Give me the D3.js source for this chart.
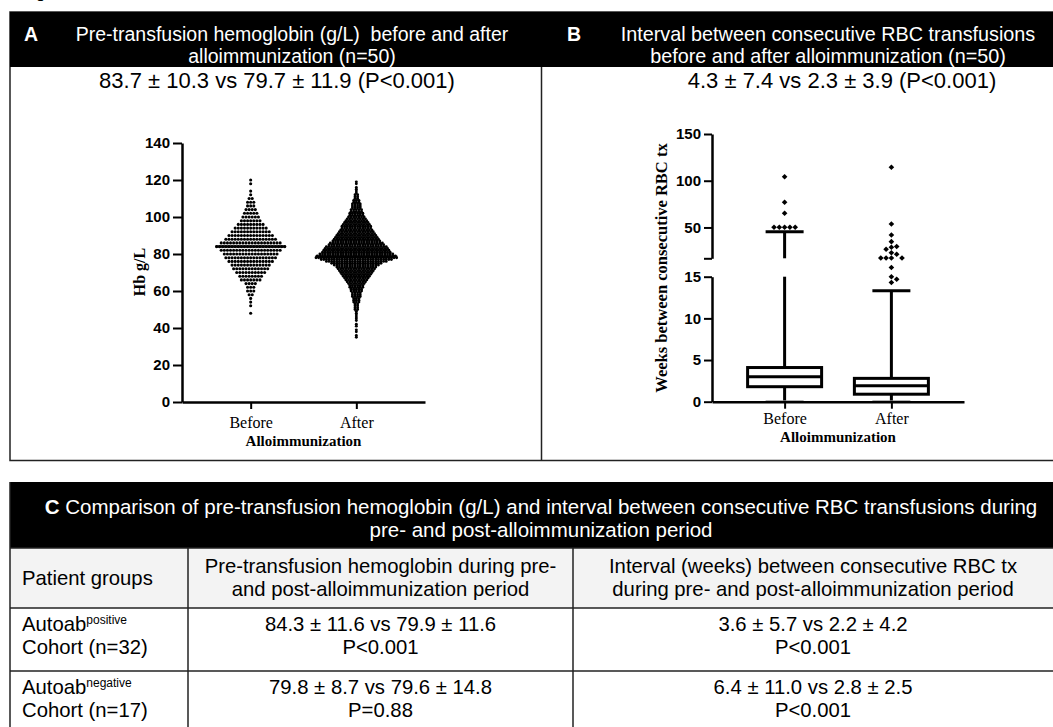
<!DOCTYPE html>
<html>
<head>
<meta charset="utf-8">
<script src="https://cdn.jsdelivr.net/npm/d3@7"></script>
<style>
body { margin: 0; background: #fff; }
svg { display: block; font-family: "Liberation Sans", Arial, sans-serif; }
</style>
</head>
<body>
<div id="fig"></div>
<script>
// Panel A: pre-transfusion Hb, dots per value (g/L)
let groups = ['Before', 'After'];
let hbBeforeValues = [120,118,116,114,112,110,108,106,104,102,100,98,96,94,92,90,88,86,84,82,80,78,76,74,72,70,68,66,64,62,60,58,56,54,52,50,48];
let hbBeforeCounts = [1,1,0,1,1,2,3,3,4,5,6,7,9,11,13,15,17,20,23,20,18,17,15,13,12,10,8,7,4,3,3,2,1,1,1,0,1];
let hbAfterValues = d3.range(119, 34, -1);
let hbAfterCounts = [1,1,0,1,1,1,1,2,2,2,3,3,4,4,4,5,5,6,6,7,8,9,10,11,12,12,13,14,15,16,17,18,19,21,22,24,25,26,27,29,31,32,28,24,20,18,16,15,14,13,12,11,10,9,8,7,6,6,5,5,4,4,4,3,3,3,2,2,2,2,1,1,1,1,1,1,0,1,1,0,1,1,0,1,1];
let hbCentre = [84, 78.5];
let hbTicks = [0, 20, 40, 60, 80, 100, 120, 140];

// Panel B: weeks between transfusions (box plot, Tukey)
let boxStats = [
    {group: 'Before', min: 0.1, q1: 1.8, median: 3.0, q3: 4.1, max: 45.5},
    {group: 'After',  min: 0.1, q1: 0.9, median: 1.9, q3: 2.8, max: 13.3}
];
let outBefore = [104.3, 76.9, 65.2, 50.2, 50.2, 50.2, 50.2, 50.2];
let outAfter = [114.4, 53.7, 41.9, 34.8, 29.6, 28.8, 26.7, 23.0, 21.3, 17.3, 17.3, 17.3, 17.3, 16.1, 15.0, 14.7, 14.3];
let lowTicks = [0, 5, 10, 15];
let upTicks = [17, 50, 100, 150];

// Panel C table
let colHeads = [['Pre-transfusion hemoglobin during pre-', 'and post-alloimmunization period'],
                ['Interval (weeks) between consecutive RBC tx', 'during pre- and post-alloimmunization period']];
let rowGroups = [['positive', 'Cohort (n=32)'], ['negative', 'Cohort (n=17)']];
let rowHb = [['84.3 ± 11.6 vs 79.9 ± 11.6', 'P<0.001'], ['79.8 ± 8.7 vs 79.6 ± 14.8', 'P=0.88']];
let rowInt = [['3.6 ± 5.7 vs 2.2 ± 4.2', 'P<0.001'], ['6.4 ± 11.0 vs 2.8 ± 2.5', 'P<0.001']];

let W = 1053, H = 727;
let serif = '"Liberation Serif", "Times New Roman", serif';
let sans = '"Liberation Sans", Arial, sans-serif';
let line = '#222';

let svg = d3.select('#fig').append('svg').attr('width', W).attr('height', H);

// cut off caption at the very top
svg.append('text').attr('x', 36).attr('y', -2).attr('font-size', 15).attr('font-weight', 'bold').text('g');

// ---- frames for A and B
svg.append('rect').attr('x', 10).attr('y', 12).attr('width', 1060).attr('height', 448.5)
    .attr('fill', 'none').attr('stroke', line).attr('stroke-width', 1.5);
svg.append('rect').attr('x', 10).attr('y', 12).attr('width', 1060).attr('height', 55).attr('fill', '#000');
svg.append('line').attr('x1', 541.5).attr('x2', 541.5).attr('y1', 67).attr('y2', 460)
    .attr('stroke', line).attr('stroke-width', 1.5);

function headText(x, y, str, opts) {
    let t = svg.append('text').attr('x', x).attr('y', y)
        .attr('font-size', opts.size || 20).attr('fill', opts.fill || '#000')
        .attr('text-anchor', opts.anchor || 'middle')
        .style('white-space', 'pre').text(str);
    if (opts.bold) t.attr('font-weight', 'bold');
    return t;
}

headText(24, 41, 'A', {fill: '#fff', bold: true, anchor: 'start', size: 19.5});
headText(292, 41, 'Pre-transfusion hemoglobin (g/L)  before and after', {fill: '#fff', size: 19.5});
headText(292, 63, 'alloimmunization (n=50)', {fill: '#fff', size: 19.5});
headText(567, 41, 'B', {fill: '#fff', bold: true, anchor: 'start', size: 19.5});
headText(828, 41, 'Interval between consecutive RBC transfusions', {fill: '#fff', size: 19.8});
headText(828, 63, 'before and after alloimmunization (n=50)', {fill: '#fff', size: 19.8});

headText(277, 88, '83.7 ± 10.3 vs 79.7 ± 11.9 (P<0.001)', {size: 22});
headText(842, 88, '4.3 ± 7.4 vs 2.3 ± 3.9 (P<0.001)', {size: 22});

function styleAxis(g) {
    g.select('.domain').attr('stroke', '#000').attr('stroke-width', 2.5);
    g.selectAll('.tick line').attr('stroke', '#000').attr('stroke-width', 2);
    g.selectAll('.tick text').attr('fill', '#000');
}

// ---- Panel A
let yA = d3.scaleLinear().domain([0, 140]).range([402, 143]);
let xA = d3.scalePoint().domain(groups).range([182, 425]).padding(0.65);

let gA = svg.append('g');

function swarm(values, counts, cx, spacing) {
    let pts = [];
    values.forEach((v, i) => {
        let n = counts[i];
        for (let k = 0; k < n; k++) pts.push({x: cx + (k - (n - 1) / 2) * spacing, y: yA(v)});
    });
    return pts;
}

let ptsBefore = swarm(hbBeforeValues, hbBeforeCounts, xA('Before'), 3.1);
let ptsAfter = swarm(hbAfterValues, hbAfterCounts, xA('After'), 2.6);

gA.selectAll('.db').data(ptsBefore).enter().append('circle')
    .attr('cx', d => d.x).attr('cy', d => d.y).attr('r', 1.55).attr('fill', '#000');
gA.selectAll('.da').data(ptsAfter).enter().append('circle')
    .attr('cx', d => d.x).attr('cy', d => d.y).attr('r', 1.45).attr('fill', '#000');

let centreW = [70, 82];
groups.forEach((g, i) => {
    gA.append('line').attr('x1', xA(g) - centreW[i] / 2).attr('x2', xA(g) + centreW[i] / 2)
        .attr('y1', yA(hbCentre[i])).attr('y2', yA(hbCentre[i]))
        .attr('stroke', '#000').attr('stroke-width', 2.5);
});

let axYA = gA.append('g').attr('transform', 'translate(182,0)')
    .call(d3.axisLeft(yA).tickValues(hbTicks).tickSize(9).tickSizeOuter(0).tickPadding(3));
axYA.selectAll('text').attr('font-size', 15).attr('font-weight', 'bold').attr('font-family', sans);
styleAxis(axYA);

let axXA = gA.append('g').attr('transform', 'translate(0,402)')
    .call(d3.axisBottom(xA).tickSize(7).tickSizeOuter(0).tickPadding(8));
axXA.selectAll('text').attr('font-size', 16).attr('font-family', serif);
styleAxis(axXA);

gA.append('text').attr('transform', 'translate(139,272) rotate(-90)')
    .attr('text-anchor', 'middle').attr('dominant-baseline', 'central')
    .attr('font-family', serif).attr('font-weight', 'bold').attr('font-size', 16).text('Hb g/L');
gA.append('text').attr('x', (xA('Before') + xA('After')) / 2).attr('y', 446)
    .attr('text-anchor', 'middle').attr('font-family', serif).attr('font-weight', 'bold')
    .attr('font-size', 15).text('Alloimmunization');

// ---- Panel B
let yLow = d3.scaleLinear().domain([0, 15]).range([401.7, 276.7]);
let yUp = d3.scaleLinear().domain([17, 150]).range([258.3, 134]);
let yB = v => v < 16.5 ? yLow(v) : yUp(v);
let xB = d3.scalePoint().domain(groups).range([712, 964]).padding(0.68);

let gB = svg.append('g');

function vseg(x, v1, v2) {
    let segs = [];
    if (v1 < 15) segs.push([yLow(v1), yLow(Math.min(v2, 15))]);
    if (v2 > 17) segs.push([yUp(Math.max(v1, 17)), yUp(v2)]);
    segs.forEach(s => {
        gB.append('line').attr('x1', x).attr('x2', x).attr('y1', s[0]).attr('y2', s[1])
            .attr('stroke', '#000').attr('stroke-width', 3);
    });
}

let boxW = 74, capW = 38;
boxStats.forEach(b => {
    let cx = xB(b.group);
    vseg(cx, b.q3, b.max);
    vseg(cx, b.min, b.q1);
    gB.append('line').attr('x1', cx - capW / 2).attr('x2', cx + capW / 2)
        .attr('y1', yB(b.max)).attr('y2', yB(b.max)).attr('stroke', '#000').attr('stroke-width', 3);
    gB.append('line').attr('x1', cx - capW / 2).attr('x2', cx + capW / 2)
        .attr('y1', yB(b.min)).attr('y2', yB(b.min)).attr('stroke', '#888').attr('stroke-width', 1);
    gB.append('rect').attr('x', cx - boxW / 2).attr('width', boxW)
        .attr('y', yLow(b.q3)).attr('height', yLow(b.q1) - yLow(b.q3))
        .attr('fill', '#fff').attr('stroke', '#000').attr('stroke-width', 3);
    gB.append('line').attr('x1', cx - boxW / 2).attr('x2', cx + boxW / 2)
        .attr('y1', yLow(b.median)).attr('y2', yLow(b.median)).attr('stroke', '#000').attr('stroke-width', 3);
});

// outliers spread sideways when they would overlap
function spread(values, cx) {
    let placed = [];
    values.map(v => yB(v)).sort((a, b) => a - b).forEach(y => {
        let steps = [0, 1, -1, 2, -2, 3, -3], d = 5.3;
        for (let s of steps) {
            let x = cx + s * d;
            if (placed.every(p => Math.hypot(p.x - x, p.y - y) >= 5)) { placed.push({x, y}); break; }
        }
    });
    return placed;
}
let diamond = d3.symbol().type(d3.symbolDiamond2).size(20);
spread(outBefore, xB('Before')).concat(spread(outAfter, xB('After'))).forEach(p => {
    gB.append('path').attr('d', diamond).attr('transform', `translate(${p.x},${p.y})`).attr('fill', '#000');
});

let axLow = gB.append('g').attr('transform', 'translate(712,0)')
    .call(d3.axisLeft(yLow).tickValues(lowTicks).tickSize(8).tickSizeOuter(0).tickPadding(3));
let axUp = gB.append('g').attr('transform', 'translate(712,0)')
    .call(d3.axisLeft(yUp).tickValues(upTicks).tickSize(8).tickSizeOuter(0).tickPadding(3)
        .tickFormat(d => d === 17 ? '' : d));
[axLow, axUp].forEach(ax => {
    ax.selectAll('text').attr('font-size', 15).attr('font-weight', 'bold').attr('font-family', sans);
    styleAxis(ax);
});

let axXB = gB.append('g').attr('transform', 'translate(0,401.7)')
    .call(d3.axisBottom(xB).tickSize(7).tickSizeOuter(0).tickPadding(4));
axXB.selectAll('text').attr('font-size', 16).attr('font-family', serif);
styleAxis(axXB);

gB.append('text').attr('transform', 'translate(661,268) rotate(-90)')
    .attr('text-anchor', 'middle').attr('dominant-baseline', 'central')
    .attr('font-family', serif).attr('font-weight', 'bold').attr('font-size', 16.5)
    .text('Weeks between consecutive RBC tx');
gB.append('text').attr('x', (xB('Before') + xB('After')) / 2).attr('y', 442)
    .attr('text-anchor', 'middle').attr('font-family', serif).attr('font-weight', 'bold')
    .attr('font-size', 15).text('Alloimmunization');

// ---- Panel C table
let colX = [10, 188, 573, 1060];
let rowY = [548, 608, 671, 734];
let fs = 20.3;

svg.append('rect').attr('x', 10).attr('y', 482).attr('width', 1060).attr('height', 66).attr('fill', '#000');
let cTitle = svg.append('text').attr('x', 541).attr('y', 514).attr('text-anchor', 'middle')
    .attr('font-size', 20.5).attr('fill', '#fff');
cTitle.append('tspan').attr('font-weight', 'bold').text('C');
cTitle.append('tspan').text(' Comparison of pre-transfusion hemoglobin (g/L) and interval between consecutive RBC transfusions during');
headText(541, 537, 'pre- and post-alloimmunization period', {fill: '#fff', size: 20.5});

svg.append('rect').attr('x', 10).attr('y', rowY[0]).attr('width', 1060).attr('height', rowY[1] - rowY[0])
    .attr('fill', '#f3f3f3');
rowY.slice(0, 3).forEach(y => {
    svg.append('line').attr('x1', 10).attr('x2', 1060).attr('y1', y).attr('y2', y)
        .attr('stroke', line).attr('stroke-width', 1.5);
});
colX.slice(0, 3).forEach((x, i) => {
    svg.append('line').attr('x1', x).attr('x2', x).attr('y1', i === 0 ? 482 : rowY[0]).attr('y2', H)
        .attr('stroke', line).attr('stroke-width', 1.5);
});

headText(22, 585, 'Patient groups', {anchor: 'start', size: fs});
colHeads.forEach((c, i) => {
    let cx = i === 0 ? (colX[1] + colX[2]) / 2 : 813;
    headText(cx, 573, c[0], {size: fs});
    headText(cx, 596, c[1], {size: fs});
});

rowGroups.forEach((r, i) => {
    let b = rowY[1] + i * 63;
    let t = svg.append('text').attr('x', 22).attr('y', b + 23).attr('font-size', fs);
    t.append('tspan').text('Autoab');
    t.append('tspan').attr('font-size', 12).attr('dy', -7).text(r[0]);
    headText(22, b + 46, r[1], {anchor: 'start', size: fs});
    headText((colX[1] + colX[2]) / 2, b + 23, rowHb[i][0], {size: fs});
    headText((colX[1] + colX[2]) / 2, b + 46, rowHb[i][1], {size: fs});
    headText(813, b + 23, rowInt[i][0], {size: fs});
    headText(813, b + 46, rowInt[i][1], {size: fs});
});
</script>
</body>
</html>
